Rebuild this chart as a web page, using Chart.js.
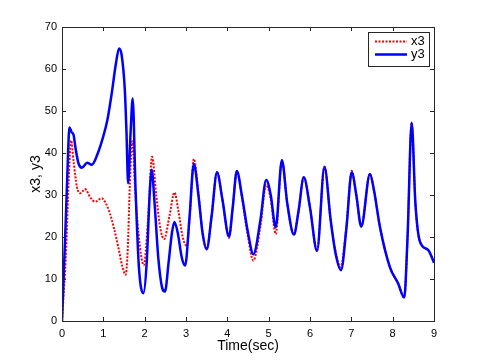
<!DOCTYPE html>
<html>
<head>
<meta charset="utf-8">
<script src="https://cdn.jsdelivr.net/npm/chart.js@4.4.0/dist/chart.umd.min.js"></script>
<style>
  html, body { margin: 0; padding: 0; background: #ffffff; }
  #wrap { width: 480px; height: 361px; position: relative; }
</style>
</head>
<body>
<div id="wrap"><canvas id="c" width="480" height="361"></canvas></div>
<script>
// ---- data ----
const xTicks = [0, 1, 2, 3, 4, 5, 6, 7, 8, 9];
const yTicks = [0, 10, 20, 30, 40, 50, 60, 70];
const seriesNames = ["x3", "y3"];

const timeX3 = [0, 0.10, 0.16, 0.22, 0.28, 0.36, 0.44, 0.56, 0.68, 0.80, 0.96, 1.06, 1.16, 1.26, 1.36, 1.46, 1.54, 1.59, 1.64, 1.70, 1.77, 1.85, 1.98, 2.08, 2.18, 2.28, 2.38, 2.47, 2.60, 2.72, 2.82, 2.92, 3.02, 3.10, 3.19, 3.30, 3.40, 3.50, 3.62, 3.75, 3.88, 4.04, 4.13, 4.23, 4.35, 4.50, 4.63, 4.80, 4.94, 5.05, 5.17, 5.32, 5.45, 5.61, 5.72, 5.85, 6.00, 6.17, 6.35, 6.50, 6.62, 6.74, 6.88, 7.01, 7.12, 7.24, 7.45, 7.55, 7.69, 7.93, 8.13, 8.28, 8.36, 8.46, 8.55, 8.66, 8.86, 9.00];
const valuesX3 = [0, 17, 33, 43.0, 38, 32, 30.4, 31.4, 29.5, 28.4, 29.2, 28, 25.6, 22, 17.7, 13, 11.0, 17, 32, 42.8, 31.2, 20.9, 13.3, 24, 39.1, 30, 22, 19.5, 25, 30.6, 26, 20, 17.9, 26, 38.6, 30.5, 21, 17.1, 25, 35.4, 29, 19.8, 27, 35.7, 29.5, 20, 14.4, 22.5, 32.4, 29, 20.7, 38.3, 28, 20.6, 26, 34.2, 27, 16.7, 36.7, 24, 16.5, 12.8, 22.5, 35.8, 30, 22.5, 35.0, 31, 22.5, 12.9, 9.0, 5.6, 20, 47.2, 28, 18.9, 16.9, 13.9];

const timeY3 = [0, 0.10, 0.14, 0.18, 0.23, 0.28, 0.33, 0.40, 0.48, 0.61, 0.72, 0.85, 1.00, 1.10, 1.20, 1.30, 1.38, 1.44, 1.52, 1.56, 1.60, 1.66, 1.71, 1.78, 1.86, 1.97, 2.05, 2.12, 2.17, 2.24, 2.33, 2.42, 2.49, 2.58, 2.66, 2.72, 2.80, 2.90, 2.98, 3.08, 3.19, 3.30, 3.40, 3.50, 3.62, 3.75, 3.88, 4.04, 4.13, 4.23, 4.35, 4.50, 4.63, 4.80, 4.94, 5.05, 5.17, 5.32, 5.45, 5.61, 5.72, 5.85, 6.00, 6.17, 6.35, 6.50, 6.62, 6.75, 6.88, 7.01, 7.12, 7.24, 7.45, 7.55, 7.69, 7.93, 8.13, 8.28, 8.36, 8.46, 8.55, 8.66, 8.86, 9.00];
const valuesY3 = [0, 26.4, 38, 46.1, 45.0, 44.3, 41, 37.5, 36.5, 37.7, 37.2, 39.5, 44, 48, 54, 61, 64.9, 63.5, 55, 45, 32.8, 45, 53.0, 31.2, 12.9, 6.6, 14, 30, 36.0, 28, 15, 8, 7.0, 14, 21, 23.6, 21, 15, 13.2, 24, 37.4, 30, 21, 17.1, 25, 35.4, 29, 20.1, 27, 35.7, 30, 21, 15.9, 24, 33.6, 30, 22.3, 38.3, 28, 20.6, 26, 34.2, 27, 16.7, 36.7, 24, 16, 12.1, 22, 35.4, 30, 22.5, 35.0, 31, 22.5, 12.9, 9.0, 5.6, 20, 47.2, 28, 18.9, 16.9, 13.9];

const xTitle = "Time(sec)";
const yTitle = "x3, y3";
// --------------------------------------

const FONT = '"Liberation Sans", Arial, Helvetica, sans-serif';
const toPts = (xs, ys) => xs.map((t, i) => ({ x: t, y: ys[i] }));

const frame = {
  id: 'frame',
  afterDatasetsDraw(chart) {
    const { ctx, chartArea: a, scales } = chart;
    ctx.save();
    ctx.strokeStyle = '#262626';
    ctx.lineWidth = 1;
    ctx.strokeRect(Math.round(a.left) + 0.5, Math.round(a.top) + 0.5,
      Math.round(a.right - a.left), Math.round(a.bottom - a.top));
    const tl = 4;
    ctx.beginPath();
    xTicks.forEach(v => {
      const px = Math.round(scales.x.getPixelForValue(v)) + 0.5;
      ctx.moveTo(px, a.bottom); ctx.lineTo(px, a.bottom - tl);
      ctx.moveTo(px, a.top); ctx.lineTo(px, a.top + tl);
    });
    yTicks.forEach(v => {
      const py = Math.round(scales.y.getPixelForValue(v)) + 0.5;
      ctx.moveTo(a.left, py); ctx.lineTo(a.left + tl, py);
      ctx.moveTo(a.right, py); ctx.lineTo(a.right - tl, py);
    });
    ctx.stroke();

    // axis titles
    ctx.fillStyle = '#000';
    ctx.font = '14px ' + FONT;
    ctx.textAlign = 'center';
    ctx.textBaseline = 'middle';
    ctx.fillText(xTitle, (a.left + a.right) / 2, 346);
    ctx.save();
    ctx.translate(36, (a.top + a.bottom) / 2);
    ctx.rotate(-Math.PI / 2);
    ctx.fillText(yTitle, 0, 0);
    ctx.restore();

    // legend box
    const bx = 368.5, by = 32.5, bw = 61, bh = 34;
    ctx.fillStyle = '#fff';
    ctx.fillRect(bx, by, bw, bh);
    ctx.strokeStyle = '#262626';
    ctx.strokeRect(bx, by, bw, bh);
    const ds = chart.data.datasets;
    const rows = [41.5, 54.5];
    ds.forEach((d, i) => {
      ctx.save();
      ctx.strokeStyle = d.borderColor;
      ctx.lineWidth = d.borderWidth;
      ctx.setLineDash(d.borderDash || []);
      ctx.beginPath();
      ctx.moveTo(375, rows[i]); ctx.lineTo(407, rows[i]);
      ctx.stroke();
      ctx.restore();
      ctx.fillStyle = '#000';
      ctx.font = '13px ' + FONT;
      ctx.textAlign = 'left';
      ctx.textBaseline = 'middle';
      ctx.fillText(d.label, 411, rows[i]);
    });
    ctx.restore();
  }
};

new Chart(document.getElementById('c'), {
  type: 'line',
  data: {
    datasets: [
      {
        label: seriesNames[0],
        data: toPts(timeX3, valuesX3),
        borderColor: '#ff0000',
        borderWidth: 2,
        borderDash: [2, 1.5],
        pointRadius: 0,
        cubicInterpolationMode: 'monotone',
        fill: false,
        order: 2
      },
      {
        label: seriesNames[1],
        data: toPts(timeY3, valuesY3),
        borderColor: '#0000ff',
        borderWidth: 2.5,
        pointRadius: 0,
        cubicInterpolationMode: 'monotone',
        fill: false,
        order: 1
      }
    ]
  },
  options: {
    responsive: false,
    animation: false,
    events: [],
    layout: { padding: { left: 0, right: 46, top: 27, bottom: 0 } },
    plugins: { legend: { display: false }, tooltip: { enabled: false } },
    scales: {
      x: {
        type: 'linear', min: 0, max: 9,
        afterBuildTicks: s => { s.ticks = xTicks.map(v => ({ value: v })); },
        afterFit: s => { s.height = 40; },
        grid: { display: false, drawTicks: false },
        border: { display: false },
        ticks: { color: '#000', font: { family: FONT, size: 11 }, padding: 6, maxRotation: 0 }
      },
      y: {
        type: 'linear', min: 0, max: 70,
        afterBuildTicks: s => { s.ticks = yTicks.map(v => ({ value: v })); },
        afterFit: s => { s.width = 62; },
        grid: { display: false, drawTicks: false },
        border: { display: false },
        ticks: { color: '#000', font: { family: FONT, size: 11 }, padding: 5 }
      }
    }
  },
  plugins: [frame]
});
</script>
</body>
</html>
